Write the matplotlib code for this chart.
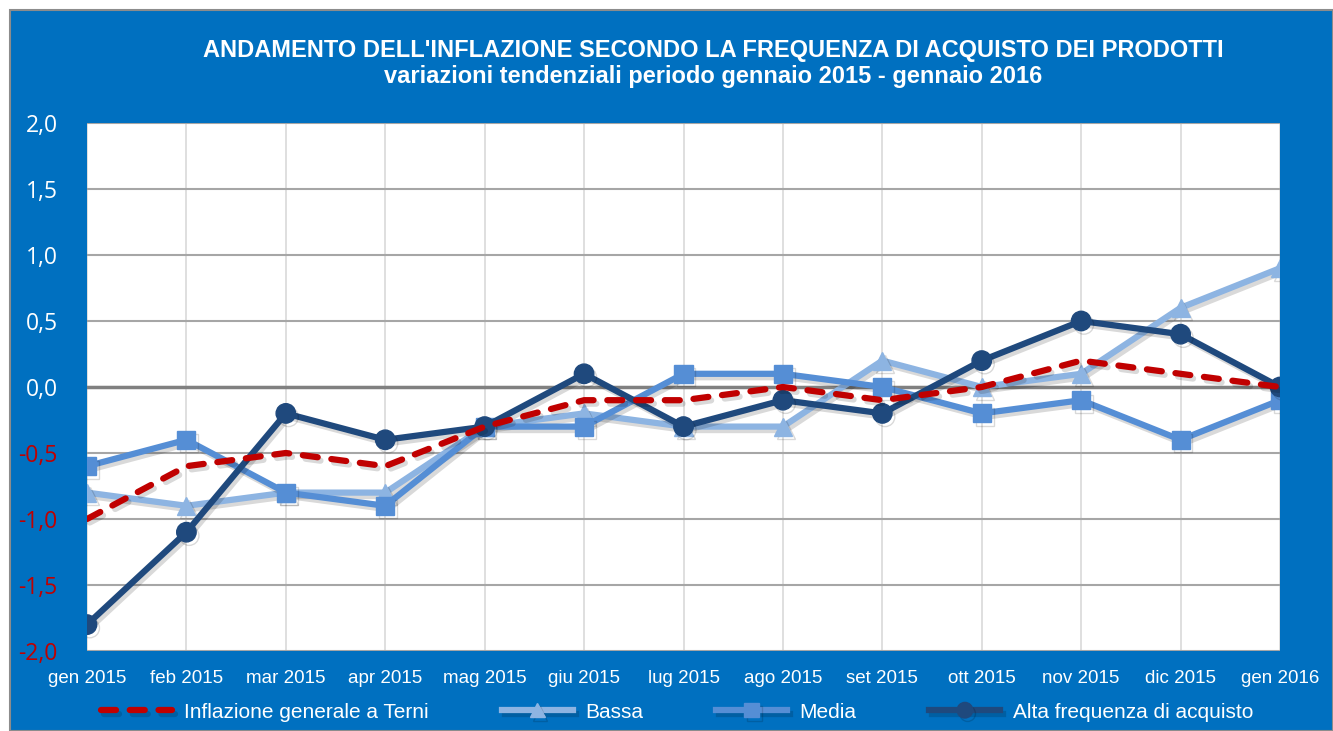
import matplotlib.pyplot as plt
import matplotlib.patches as mpatches
import matplotlib.patheffects as pe
import numpy as np

mesi = ['gen 2015', 'feb 2015', 'mar 2015', 'apr 2015', 'mag 2015', 'giu 2015', 'lug 2015',
        'ago 2015', 'set 2015', 'ott 2015', 'nov 2015', 'dic 2015', 'gen 2016']
inflazione = [-1.0, -0.6, -0.5, -0.6, -0.3, -0.1, -0.1, 0.0, -0.1, 0.0, 0.2, 0.1, 0.0]
bassa = [-0.8, -0.9, -0.8, -0.8, -0.3, -0.2, -0.3, -0.3, 0.2, 0.0, 0.1, 0.6, 0.9]
media = [-0.6, -0.4, -0.8, -0.9, -0.3, -0.3, 0.1, 0.1, 0.0, -0.2, -0.1, -0.4, -0.1]
alta = [-1.8, -1.1, -0.2, -0.4, -0.3, 0.1, -0.3, -0.1, -0.2, 0.2, 0.5, 0.4, 0.0]
y_ticks = [-2.0, -1.5, -1.0, -0.5, 0.0, 0.5, 1.0, 1.5, 2.0]

BLU = '#0070C0'
narrow = ['Liberation Sans', 'DejaVu Sans']

fig = plt.figure(figsize=(13.33, 7.31), dpi=100, facecolor='white')
fig.patches.append(mpatches.Rectangle((10 / 1333, 0), 1 - 10 / 1333, 1 - 10 / 731,
                                      transform=fig.transFigure, facecolor=BLU,
                                      edgecolor='#8C8C8C', linewidth=1.5, zorder=-5))

ax = fig.add_axes([87 / 1333, 1 - 651 / 731, (1280 - 87) / 1333, (651 - 123) / 731])
ax.set_facecolor('white')
x = np.arange(len(mesi))

# ombra leggera come in Excel
shadow = [pe.SimpleLineShadow(offset=(2, -2.5), alpha=0.15, shadow_color='black'), pe.Normal()]

ax.plot(x, bassa, color='#8DB4E2', lw=4.5, marker='^', ms=13, label='Bassa', zorder=3,
        path_effects=shadow, solid_joinstyle='round')
ax.plot(x, media, color='#558ED5', lw=4.5, marker='s', ms=13, label='Media', zorder=4,
        path_effects=shadow, solid_joinstyle='round')
ax.plot(x, alta, color='#1F497D', lw=4.5, marker='o', ms=14, label='Alta frequenza di acquisto',
        zorder=5, path_effects=shadow, solid_joinstyle='round')
ax.plot(x, inflazione, color='#C00000', lw=4.5, ls=(0, (2.4, 2.2)), label='Inflazione generale a Terni',
        zorder=6, path_effects=shadow, dash_capstyle='round')

ax.set_xlim(0, len(mesi) - 1)
ax.set_ylim(-2, 2)
ax.set_yticks(y_ticks)
ax.set_xticks(x)
ax.set_xticklabels(mesi, family=narrow, fontsize=13.5, color='white')
ax.set_yticklabels([('%.1f' % v).replace('.', ',') for v in y_ticks], family='Open Sans', fontsize=16.5)
for lab, v in zip(ax.get_yticklabels(), y_ticks):
    lab.set_color('#C00000' if v < 0 else 'white')
ax.tick_params(length=0)
ax.tick_params(axis='x', pad=14)
ax.tick_params(axis='y', pad=21)

ax.grid(axis='x', color='#D9D9D9', lw=1.2, zorder=1)
ax.grid(axis='y', color='#A6A6A6', lw=1.5, zorder=1)
ax.axhline(0, color='#808080', lw=2.5, zorder=2)
for s in ax.spines.values():
    s.set_visible(False)

fig.text(0.535, 1 - 50 / 731, "ANDAMENTO DELL'INFLAZIONE SECONDO LA FREQUENZA DI ACQUISTO DEI PRODOTTI",
         ha='center', va='center', color='white', fontsize=17, fontweight='bold', family=narrow)
fig.text(0.535, 1 - 77 / 731, "variazioni tendenziali periodo gennaio 2015 - gennaio 2016",
         ha='center', va='center', color='white', fontsize=17, fontweight='bold', family=narrow)

h, l = ax.get_legend_handles_labels()
order = [3, 0, 1, 2]
leg = fig.legend([h[i] for i in order], [l[i] for i in order], loc='center', ncol=4,
                 bbox_to_anchor=(0.508, 1 - 712 / 731), frameon=False, handlelength=3.4,
                 columnspacing=3.5, handletextpad=0.6, markerscale=0.8,
                 prop={'family': narrow, 'size': 15})
for t in leg.get_texts():
    t.set_color('white')

fig.savefig('out.png', dpi=100, facecolor=fig.get_facecolor())
